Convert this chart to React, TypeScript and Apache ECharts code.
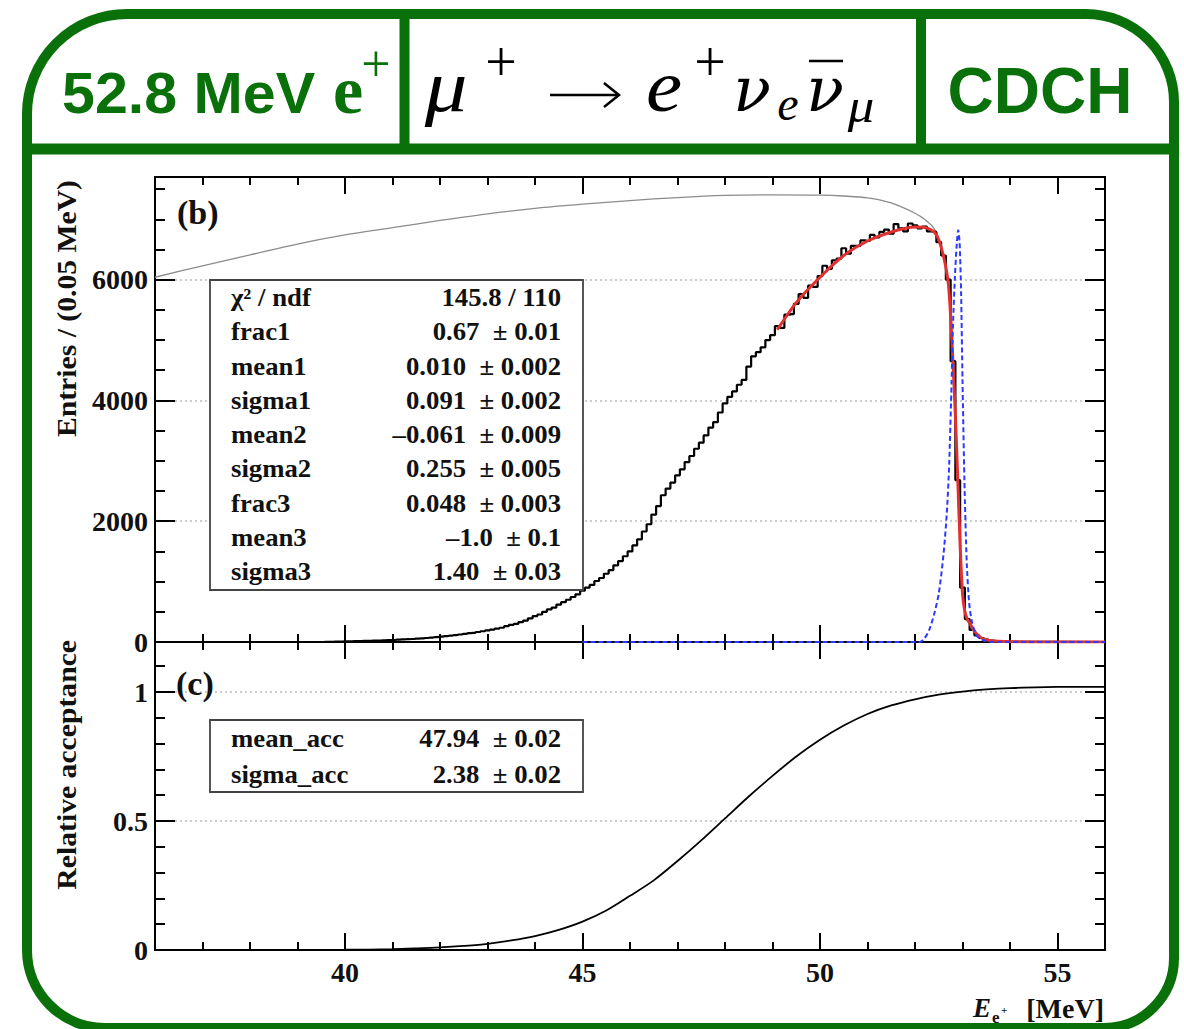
import React, { useEffect, useRef } from 'react';
import * as echarts from 'echarts';

const GREEN = '#0a700a';
const X_MIN = 36;
const X_MAX = 56;
const X_MAJOR = [40, 45, 50, 55];
const Y_ENTRIES_MAX = 7700;
const Y_ENTRIES_MAJOR = [0, 2000, 4000, 6000];
const Y_ACC_MAX = 1.194;
const Y_ACC_MAJOR = [0, 0.5, 1];

// measured data histogram, 0.1 MeV steps starting at 39.5 MeV
const HIST_START = 39.5;
const HIST_STEP = 0.1;
const histCounts = [
  0, 2, 4, 6, 8,
  10, 12, 14, 15, 18, 20, 22, 25, 27, 30,
  33, 38, 42, 46, 50, 55, 60, 66, 74, 80,
  88, 96, 104, 115, 124, 135, 146, 152, 166, 178,
  192, 205, 222, 236, 262, 285, 300, 330, 355, 392,
  430, 455, 500, 540, 570, 620, 660, 700, 745, 790,
  850, 900, 945, 1010, 1060, 1130, 1190, 1270, 1340, 1420,
  1500, 1600, 1700, 1830, 1950, 2110, 2250, 2430, 2540, 2640,
  2760, 2860, 2980, 3080, 3200, 3300, 3420, 3550, 3640, 3800,
  3950, 4060, 4150, 4260, 4340, 4560, 4730, 4800, 4880, 5000,
  5080, 5230, 5200, 5420, 5430, 5600, 5760, 5700, 5900, 5880,
  6060, 6230, 6180, 6320, 6350, 6520, 6430, 6560, 6560, 6650,
  6640, 6740, 6700, 6790, 6830, 6760, 6920, 6850, 6800, 6930,
  6900, 6850, 6880, 6800, 6790, 6620, 6400, 6000, 4650, 2680,
  900, 380, 200, 110, 66, 40, 22, 14, 9, 6,
  4,
];

// gray curve (true spectrum before acceptance)
const grayE = [36, 37, 38, 39, 40, 41, 42, 43, 44, 45, 46, 47, 48, 49, 50, 50.5, 51, 51.5, 52, 52.2, 52.4, 52.5];
const grayV = [6040, 6230, 6410, 6590, 6740, 6860, 6980, 7090, 7180, 7250, 7310, 7360, 7395, 7405, 7400, 7385, 7355, 7270, 7100, 7000, 6850, 6680];

// red fit curve
const fitE = [49.1, 49.5, 50.0, 50.5, 51.0, 51.5, 52.0, 52.2, 52.4, 52.5, 52.6, 52.65, 52.7, 52.75, 52.8, 52.85, 52.9, 52.95, 53.0, 53.05, 53.1, 53.16, 53.25, 53.4, 53.6, 54.0, 55.0, 56.0];
const fitV = [5170, 5620, 6040, 6400, 6640, 6790, 6870, 6865, 6790, 6660, 6390, 6200, 5950, 5400, 4620, 3750, 2700, 1600, 800, 500, 380, 300, 180, 66, 20, 5, 1, 0];

// blue dashed resolution function
const resE = [45, 52.1, 52.2, 52.3, 52.4, 52.5, 52.6, 52.67, 52.72, 52.77, 52.8, 52.84, 52.88, 52.91, 52.94, 52.97, 53.0, 53.04, 53.09, 53.14, 53.2, 53.3, 53.45, 53.6, 56];
const resV = [0, 0, 60, 200, 450, 800, 1450, 2140, 2950, 4300, 5250, 6050, 6600, 6820, 6600, 5800, 4340, 2680, 1300, 650, 330, 100, 25, 0, 0];

// relative acceptance
const accE = [36, 39, 40, 41, 41.5, 42, 42.5, 43, 43.5, 44, 44.5, 45, 45.5, 46, 46.5, 47, 47.5, 48, 48.5, 49, 49.5, 50, 50.5, 51, 51.5, 52, 52.5, 53, 53.5, 54, 55, 56];
const accV = [0, 0.0005, 0.001, 0.003, 0.006, 0.01, 0.016, 0.024, 0.037, 0.054, 0.078, 0.11, 0.153, 0.21, 0.27, 0.345, 0.425, 0.51, 0.595, 0.675, 0.75, 0.815, 0.87, 0.915, 0.948, 0.972, 0.99, 1.002, 1.01, 1.015, 1.02, 1.02];

const statNames = ['χ² / ndf', 'frac1', 'mean1', 'sigma1', 'mean2', 'sigma2', 'frac3', 'mean3', 'sigma3'];
const statValues = ['145.8 / 110', '0.67  ± 0.01', '0.010  ± 0.002', '0.091  ± 0.002', '–0.061  ± 0.009', '0.255  ± 0.005', '0.048  ± 0.003', '–1.0  ± 0.1', '1.40  ± 0.03'];
const accNames = ['mean_acc', 'sigma_acc'];
const accValues = ['47.94  ± 0.02', '2.38  ± 0.02'];

const SERIF = '"Liberation Serif", "Times New Roman", serif';
const SANS = '"Liberation Sans", Arial, sans-serif';
const MATH = '"DejaVu Serif", "Liberation Serif", serif';

const lineBlack = { color: '#000', width: 2 };
const labelStyle = { color: '#111', fontFamily: SERIF, fontWeight: 'bold' as const, fontSize: 28 };

function xAx(grid: number, pos: 'top' | 'bottom', major: boolean, labels: boolean) {
  return {
    type: 'value', gridIndex: grid, position: pos, min: X_MIN, max: X_MAX,
    ...(major ? {} : { interval: 1 }),
    axisLine: { show: true, onZero: false, lineStyle: lineBlack },
    axisTick: major
      ? { show: true, inside: true, length: 17, customValues: X_MAJOR, lineStyle: lineBlack }
      : { show: true, inside: true, length: 8, lineStyle: lineBlack },
    axisLabel: labels ? { show: true, customValues: X_MAJOR, margin: 8, ...labelStyle } : { show: false },
    splitLine: { show: false },
  };
}

function yAx(grid: number, pos: 'left' | 'right', max: number, interval: number, major: boolean, labels: boolean, majors: number[]) {
  return {
    type: 'value', gridIndex: grid, position: pos, min: 0, max, interval,
    axisLine: { show: true, onZero: false, lineStyle: lineBlack },
    axisTick: { show: true, inside: true, length: major ? 20 : 10, lineStyle: lineBlack },
    axisLabel: labels
      ? { show: true, margin: 7, ...labelStyle, formatter: (v: number) => (majors.some((m) => Math.abs(m - v) < 1e-9) ? String(v) : '') }
      : { show: false },
    splitLine: major && labels
      ? { show: true, lineStyle: { color: '#bdbdbd', width: 1.5, type: [2, 3] } }
      : { show: false },
  };
}

function txt(text: string, x: number, y: number, font: string, opts: any = {}) {
  const align = opts.align || 'left';
  return {
    type: 'text', x, y, z: 100, rotation: opts.rot || 0, scaleX: opts.sx || 1,
    style: {
      text, font, fill: opts.fill || '#111',
      textAlign: align, align, textVerticalAlign: 'middle', verticalAlign: 'middle',
    },
  };
}

function buildGraphic() {
  const g: any[] = [];
  // outer frame
  g.push({ type: 'rect', z: 110, shape: { x: 27, y: 14, width: 1147, height: 1014, r: [100, 88, 70, 78] }, style: { fill: 'none', stroke: GREEN, lineWidth: 10 } });
  g.push({ type: 'line', z: 110, shape: { x1: 27, y1: 149, x2: 1174, y2: 149 }, style: { stroke: GREEN, lineWidth: 11 } });
  g.push({ type: 'line', z: 110, shape: { x1: 404.5, y1: 14, x2: 404.5, y2: 149 }, style: { stroke: GREEN, lineWidth: 10 } });
  g.push({ type: 'line', z: 110, shape: { x1: 921, y1: 14, x2: 921, y2: 149 }, style: { stroke: GREEN, lineWidth: 10 } });

  // header texts
  g.push(txt('52.8 MeV', 62, 93, `bold 58px ${SANS}`, { fill: GREEN, sx: 1.02 }));
  g.push(txt('e', 333, 90, `bold 68px ${SERIF}`, { fill: GREEN }));
  g.push(txt('+', 376, 63, `normal 52px ${SERIF}`, { fill: GREEN, align: 'center' }));
  g.push(txt('CDCH', 1040, 91, `bold 64px ${SANS}`, { fill: GREEN, align: 'center' }));

  // formula
  const it = `italic 74px ${SERIF}`;
  const nu = `italic 62px ${MATH}`;
  const itS = `italic 48px ${SERIF}`;
  const up = `normal 56px ${SERIF}`;
  g.push(txt('μ', 446, 86, it, { fill: '#000', align: 'center', sx: 1.15 }));
  g.push(txt('+', 501, 62, up, { fill: '#000', align: 'center' }));
  g.push({ type: 'line', z: 100, shape: { x1: 550, y1: 95, x2: 618, y2: 95 }, style: { stroke: '#000', lineWidth: 2.5 } });
  g.push({ type: 'polyline', z: 100, shape: { points: [[604, 83], [619, 95], [604, 107]] }, style: { stroke: '#000', lineWidth: 2.5, fill: 'none' } });
  g.push(txt('e', 664, 86, it, { fill: '#000', align: 'center', sx: 1.1 }));
  g.push(txt('+', 710, 62, up, { fill: '#000', align: 'center' }));
  g.push(txt('ν', 752, 89, nu, { fill: '#000', align: 'center' }));
  g.push(txt('e', 788, 103, itS, { fill: '#000', align: 'center' }));
  g.push(txt('ν', 825, 89, nu, { fill: '#000', align: 'center' }));
  g.push({ type: 'line', z: 100, shape: { x1: 809, y1: 61, x2: 843, y2: 61 }, style: { stroke: '#000', lineWidth: 2.5 } });
  g.push(txt('μ', 861, 106, itS, { fill: '#000', align: 'center', sx: 1.1 }));

  // panel labels
  g.push(txt('(b)', 177, 212, `bold 34px ${SERIF}`));
  g.push(txt('(c)', 176, 683, `bold 34px ${SERIF}`));

  // axis titles
  g.push(txt('Entries / (0.05 MeV)', 66, 180, `bold 28px ${SERIF}`, { align: 'right', rot: Math.PI / 2, sx: 1.06 }));
  g.push(txt('Relative acceptance', 66, 640, `bold 28px ${SERIF}`, { align: 'right', rot: Math.PI / 2, sx: 1.06 }));
  g.push(txt('E', 973, 1008, `italic bold 27px ${SERIF}`));
  g.push(txt('e', 992, 1017, `bold 17px ${SERIF}`));
  g.push(txt('+', 1001, 1010, `bold 11px ${SERIF}`));
  g.push(txt('[MeV]', 1104, 1008, `bold 28px ${SERIF}`, { align: 'right' }));

  // stats box (b)
  g.push({ type: 'rect', z: 90, shape: { x: 210, y: 280, width: 373, height: 310 }, style: { fill: '#fff', stroke: '#444', lineWidth: 1.8 } });
  statNames.forEach((n, i) => {
    const y = 298 + i * 34.25;
    g.push(txt(n, 231, y, `bold 25px ${SERIF}`, { sx: 1.07 }));
    g.push(txt(statValues[i], 561, y, `bold 25px ${SERIF}`, { align: 'right', sx: 1.07 }));
  });
  // stats box (c)
  g.push({ type: 'rect', z: 90, shape: { x: 210, y: 720, width: 373, height: 72 }, style: { fill: '#fff', stroke: '#444', lineWidth: 1.8 } });
  accNames.forEach((n, i) => {
    const y = 739 + i * 36;
    g.push(txt(n, 231, y, `bold 25px ${SERIF}`, { sx: 1.07 }));
    g.push(txt(accValues[i], 561, y, `bold 25px ${SERIF}`, { align: 'right', sx: 1.07 }));
  });
  return g;
}

export default function App() {
  const ref = useRef<HTMLDivElement>(null);
  useEffect(() => {
    const chart = echarts.init(ref.current!, null, { renderer: 'svg', width: 1184, height: 1029 });
    const hist: number[][] = [[X_MIN, 0]];
    histCounts.forEach((c, i) => hist.push([+(HIST_START + i * HIST_STEP).toFixed(2), c]));
    hist.push([X_MAX, 0]);
    const zip = (a: number[], b: number[]) => a.map((x, i) => [x, b[i]]);

    const option: any = {
      animation: false,
      backgroundColor: '#fff',
      grid: [
        { left: 155, top: 177, width: 950, height: 465 },
        { left: 155, top: 642, width: 950, height: 308 },
      ],
      xAxis: [
        xAx(0, 'bottom', true, false),
        xAx(0, 'bottom', false, false),
        xAx(0, 'top', true, false),
        xAx(0, 'top', false, false),
        xAx(1, 'bottom', true, true),
        xAx(1, 'bottom', false, false),
        xAx(1, 'top', true, false),
        xAx(1, 'top', false, false),
      ],
      yAxis: [
        yAx(0, 'left', Y_ENTRIES_MAX, 2000, true, true, Y_ENTRIES_MAJOR),
        yAx(0, 'left', Y_ENTRIES_MAX, 500, false, false, []),
        yAx(0, 'right', Y_ENTRIES_MAX, 2000, true, false, []),
        yAx(0, 'right', Y_ENTRIES_MAX, 500, false, false, []),
        yAx(1, 'left', Y_ACC_MAX, 0.5, true, true, Y_ACC_MAJOR),
        yAx(1, 'left', Y_ACC_MAX, 0.1, false, false, []),
        yAx(1, 'right', Y_ACC_MAX, 0.5, true, false, []),
        yAx(1, 'right', Y_ACC_MAX, 0.1, false, false, []),
      ],
      series: [
        { type: 'line', xAxisIndex: 0, yAxisIndex: 0, data: zip(grayE, grayV), symbol: 'none', smooth: 0.3, lineStyle: { color: '#8c8c8c', width: 1.3 }, z: 2 },
        { type: 'line', xAxisIndex: 0, yAxisIndex: 0, data: hist, symbol: 'none', step: 'middle', lineStyle: { color: '#000', width: 2.2 }, z: 3 },
        { type: 'line', xAxisIndex: 0, yAxisIndex: 0, data: zip(fitE, fitV), symbol: 'none', smooth: 0.25, lineStyle: { color: '#e03030', width: 3 }, z: 4 },
        { type: 'line', xAxisIndex: 0, yAxisIndex: 0, data: zip(resE, resV), symbol: 'none', smooth: 0.25, lineStyle: { color: '#2b3bff', width: 2, type: [5, 3] }, z: 5 },
        { type: 'line', xAxisIndex: 4, yAxisIndex: 4, data: zip(accE, accV), symbol: 'none', smooth: 0.3, lineStyle: { color: '#000', width: 1.8 }, z: 3 },
      ],
      graphic: buildGraphic(),
    };
    chart.setOption(option);
    return () => chart.dispose();
  }, []);
  return <div ref={ref} style={{ position: 'absolute', left: 0, top: 0, width: 1184, height: 1029, background: '#fff' }} />;
}
